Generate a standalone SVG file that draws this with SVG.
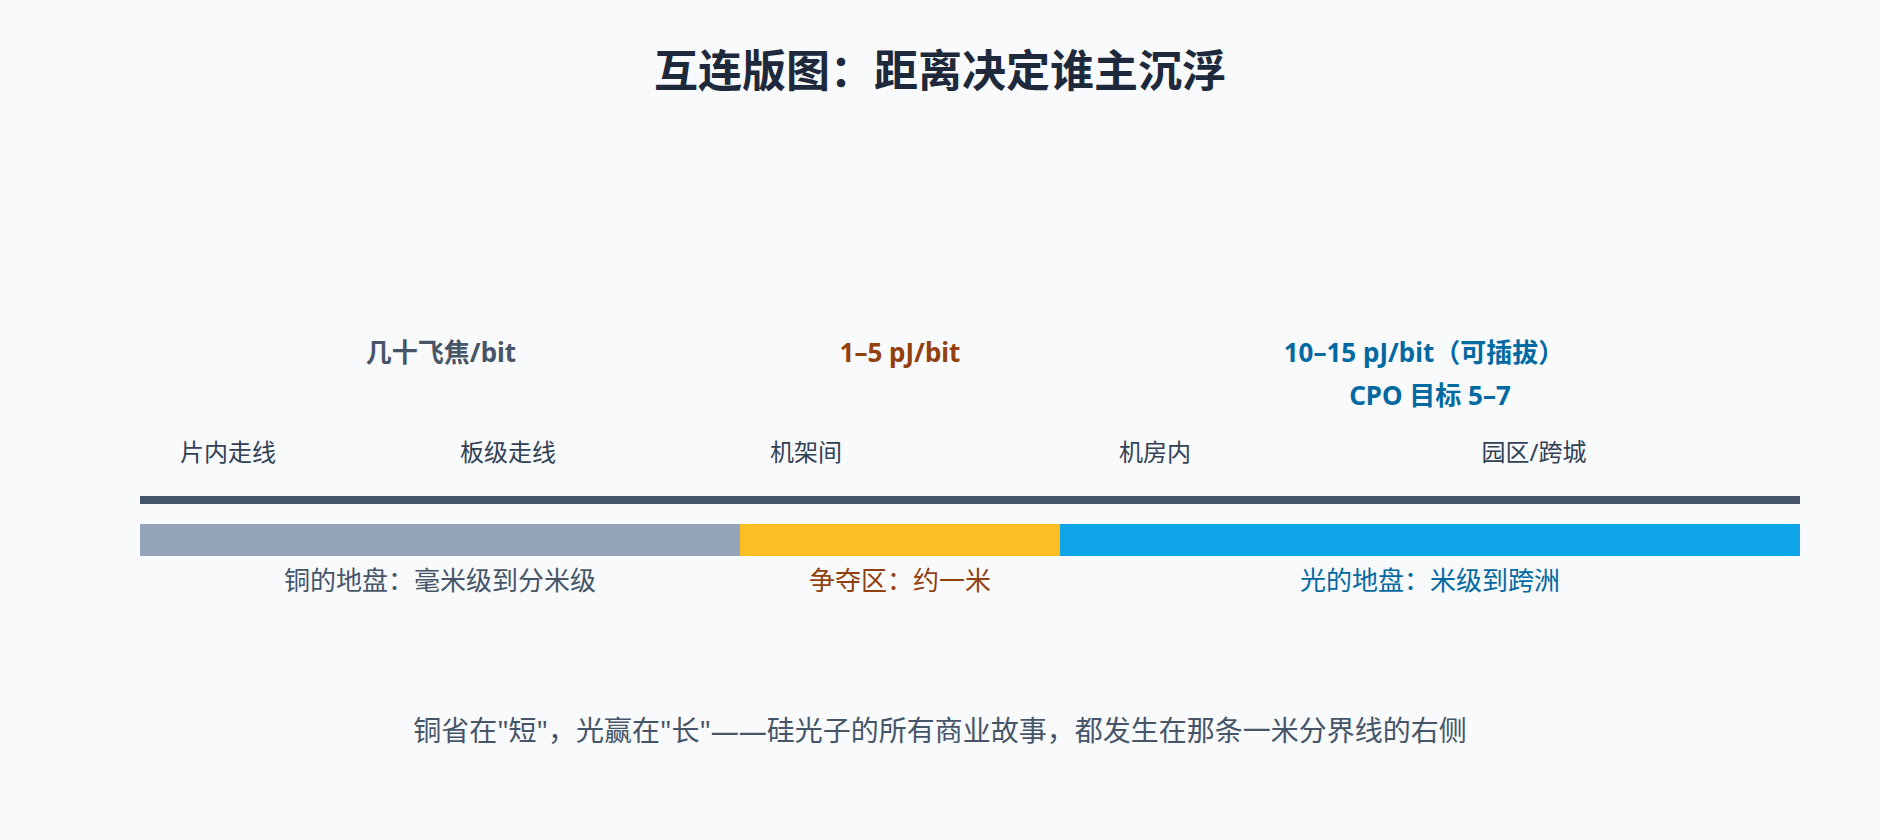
<svg xmlns="http://www.w3.org/2000/svg" width="1880" height="840" viewBox="0 0 1880 840">
  <style>
    text { font-family: "Noto Sans", "Noto Sans CJK SC", sans-serif; text-anchor: middle; }
    .title { font-size: 44px; font-weight: 700; fill: #1e293b; }
    .val { font-size: 26px; font-weight: 700; }
    .scale { font-size: 24px; fill: #334155; }
    .zone { font-size: 26px; }
    .foot { font-size: 28px; fill: #475569; }
    .cu { fill: #475569; }
    .mid { fill: #92400e; }
    .opt { fill: #0369a1; }
  </style>
  <rect x="0" y="0" width="1880" height="840" fill="#f8fafc"/>

  <g id="title">
    <text class="title" x="940" y="87">互连版图：距离决定谁主沉浮</text>
  </g>

  <g id="energy-labels">
    <text class="val cu" x="441" y="362">几十飞焦/bit</text>
    <text class="val mid" x="900" y="362">1–5 pJ/bit</text>
    <text class="val opt" x="1424" y="362">10–15 pJ/bit（可插拔）</text>
    <text class="val opt" x="1430" y="405">CPO 目标 5–7</text>
  </g>

  <g id="scale-labels">
    <text class="scale" x="228" y="461">片内走线</text>
    <text class="scale" x="508" y="461">板级走线</text>
    <text class="scale" x="806" y="461">机架间</text>
    <text class="scale" x="1155" y="461">机房内</text>
    <text class="scale" x="1534" y="461">园区/跨城</text>
  </g>

  <g id="axis">
    <rect x="140" y="496" width="1660" height="8" fill="#475569"/>
  </g>

  <g id="zones">
    <g id="zone-copper">
      <rect x="140" y="524" width="600" height="32" fill="#94a3b8"/>
      <text class="zone cu" x="440" y="590">铜的地盘：毫米级到分米级</text>
    </g>
    <g id="zone-contest">
      <rect x="740" y="524" width="320" height="32" fill="#fbbf24"/>
      <text class="zone mid" x="900" y="590">争夺区：约一米</text>
    </g>
    <g id="zone-optical">
      <rect x="1060" y="524" width="740" height="32" fill="#0ea5e9"/>
      <text class="zone opt" x="1430" y="590">光的地盘：米级到跨洲</text>
    </g>
  </g>

  <g id="footer">
    <text class="foot" x="940" y="741">铜省在"短"，光赢在"长"——硅光子的所有商业故事，都发生在那条一米分界线的右侧</text>
  </g>
</svg>
